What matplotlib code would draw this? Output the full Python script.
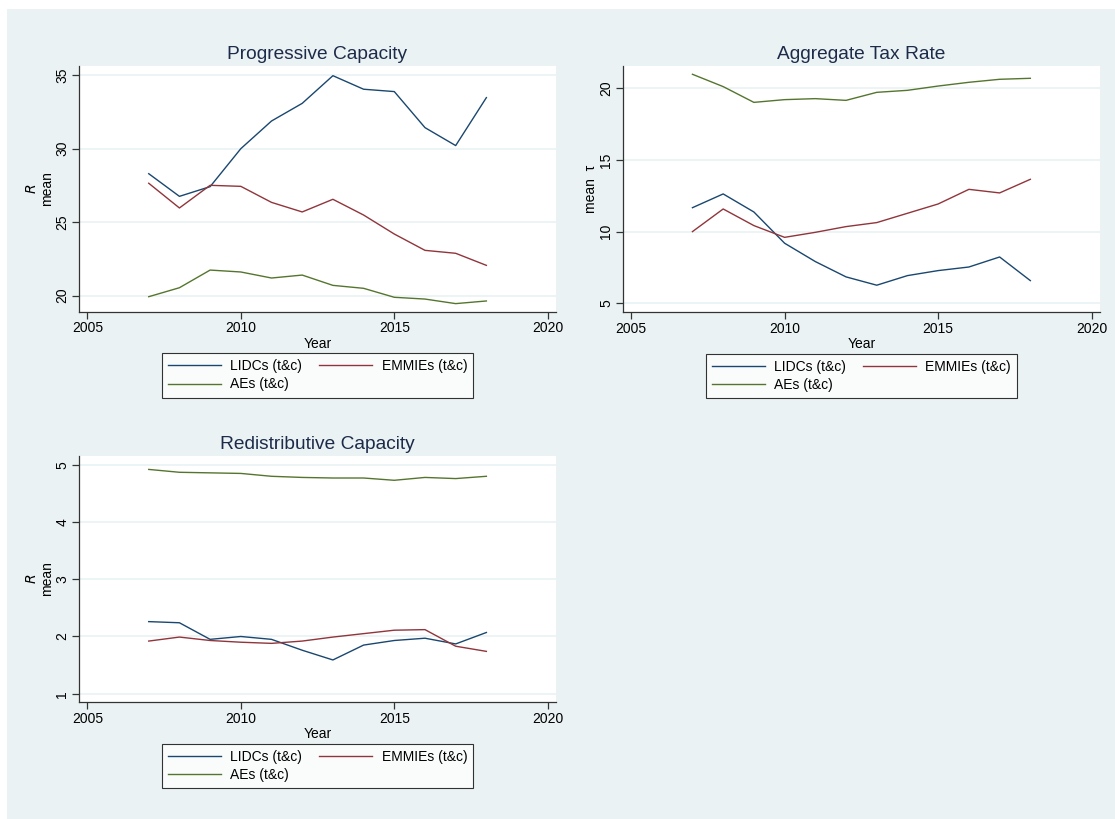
import matplotlib
matplotlib.use("Agg")
import matplotlib.pyplot as plt
from matplotlib.patches import Rectangle

plt.rcParams['font.family'] = ['Liberation Sans', 'DejaVu Sans']
plt.rcParams['mathtext.fontset'] = 'dejavusans'

years = [2007, 2008, 2009, 2010, 2011, 2012, 2013, 2014, 2015, 2016, 2017, 2018]

# Progressive Capacity
prog_lidc = [28.29, 26.75, 27.41, 29.99, 31.87, 33.07, 34.95, 34.03, 33.87, 31.42, 30.20, 33.46]
prog_emmie = [27.64, 25.96, 27.50, 27.43, 26.34, 25.69, 26.55, 25.48, 24.19, 23.08, 22.88, 22.06]
prog_ae = [19.93, 20.54, 21.74, 21.61, 21.20, 21.40, 20.70, 20.50, 19.89, 19.77, 19.46, 19.64]

# Aggregate Tax Rate
tax_lidc = [11.67, 12.63, 11.37, 9.19, 7.91, 6.84, 6.26, 6.93, 7.28, 7.53, 8.23, 6.58]
tax_emmie = [10.00, 11.58, 10.42, 9.60, 9.95, 10.35, 10.63, 11.28, 11.93, 12.95, 12.70, 13.65]
tax_ae = [20.98, 20.12, 19.02, 19.21, 19.28, 19.16, 19.72, 19.86, 20.16, 20.42, 20.63, 20.70]

# Redistributive Capacity
red_lidc = [2.26, 2.24, 1.95, 2.00, 1.95, 1.76, 1.59, 1.85, 1.93, 1.97, 1.87, 2.07]
red_emmie = [1.92, 1.99, 1.93, 1.90, 1.88, 1.92, 1.99, 2.05, 2.11, 2.12, 1.83, 1.74]
red_ae = [4.92, 4.87, 4.86, 4.85, 4.80, 4.78, 4.77, 4.77, 4.73, 4.78, 4.76, 4.80]

labels = ['LIDCs (t&c)', 'EMMIEs (t&c)', 'AEs (t&c)']
colors = ['#1A476F', '#90353B', '#55752F']
bg = '#EAF2F3'
title_col = '#1C2B4A'

fig = plt.figure(figsize=(11.15, 8.19), dpi=100)
fig.patches.append(Rectangle((7 / 1115, 0), 1 - 7 / 1115, 1 - 9 / 819,
                             transform=fig.transFigure, facecolor=bg,
                             edgecolor='none', zorder=-10))

panels = [
    ('Progressive Capacity', [0.0709, 0.6194, 0.4278, 0.3004],
     [prog_lidc, prog_emmie, prog_ae], (18.91, 35.63), [20, 25, 30, 35], '$R$\nmean'),
    ('Aggregate Tax Rate', [0.5585, 0.6187, 0.4281, 0.3011],
     [tax_lidc, tax_emmie, tax_ae], (4.37, 21.58), [5, 10, 15, 20], 'mean  τ'),
    ('Redistributive Capacity', [0.0709, 0.1425, 0.4278, 0.3011],
     [red_lidc, red_emmie, red_ae], (0.85, 5.16), [1, 2, 3, 4, 5], '$R$\nmean'),
]

for title, pos, series, ylim, yticks, ylab in panels:
    ax = fig.add_axes(pos)
    ax.set_facecolor('white')
    lines = []
    for vals, c, lab in zip(series, colors, labels):
        ln, = ax.plot(years, vals, color=c, lw=1.0, label=lab)
        lines.append(ln)
    ax.set_xlim(2004.73, 2020.27)
    ax.set_ylim(*ylim)
    ax.set_xticks([2005, 2010, 2015, 2020])
    ax.set_yticks(yticks)
    ax.grid(axis='y', color=bg, lw=1.2)
    ax.set_axisbelow(True)
    for s in ['top', 'right']:
        ax.spines[s].set_visible(False)
    for s in ['left', 'bottom']:
        ax.spines[s].set_color('#333333')
        ax.spines[s].set_linewidth(0.9)
    ax.tick_params(direction='out', length=5, width=0.9, color='#333333',
                   labelsize=10, pad=2)
    for t in ax.get_yticklabels():
        t.set_rotation(90)
        t.set_va('center')
    ax.set_title(title, fontsize=13.8, color=title_col, pad=5)
    ax.set_xlabel('Year', fontsize=10, labelpad=1)
    ax.set_ylabel(ylab, fontsize=10, labelpad=1, linespacing=1.05)
    # row-wise order like the original: LIDCs, EMMIEs / AEs
    order = [0, 2, 1]
    leg = ax.legend([lines[i] for i in order], [labels[i] for i in order],
                    loc='upper center', bbox_to_anchor=(0.5, -0.168), ncol=2,
                    fontsize=10, frameon=True, fancybox=False, handlelength=3.8,
                    columnspacing=1.2, borderpad=0.45, labelspacing=0.3,
                    handletextpad=0.7, borderaxespad=0)
    leg.get_frame().set_edgecolor('black')
    leg.get_frame().set_linewidth(0.8)

fig.savefig('out.png', dpi=100, facecolor='white')
